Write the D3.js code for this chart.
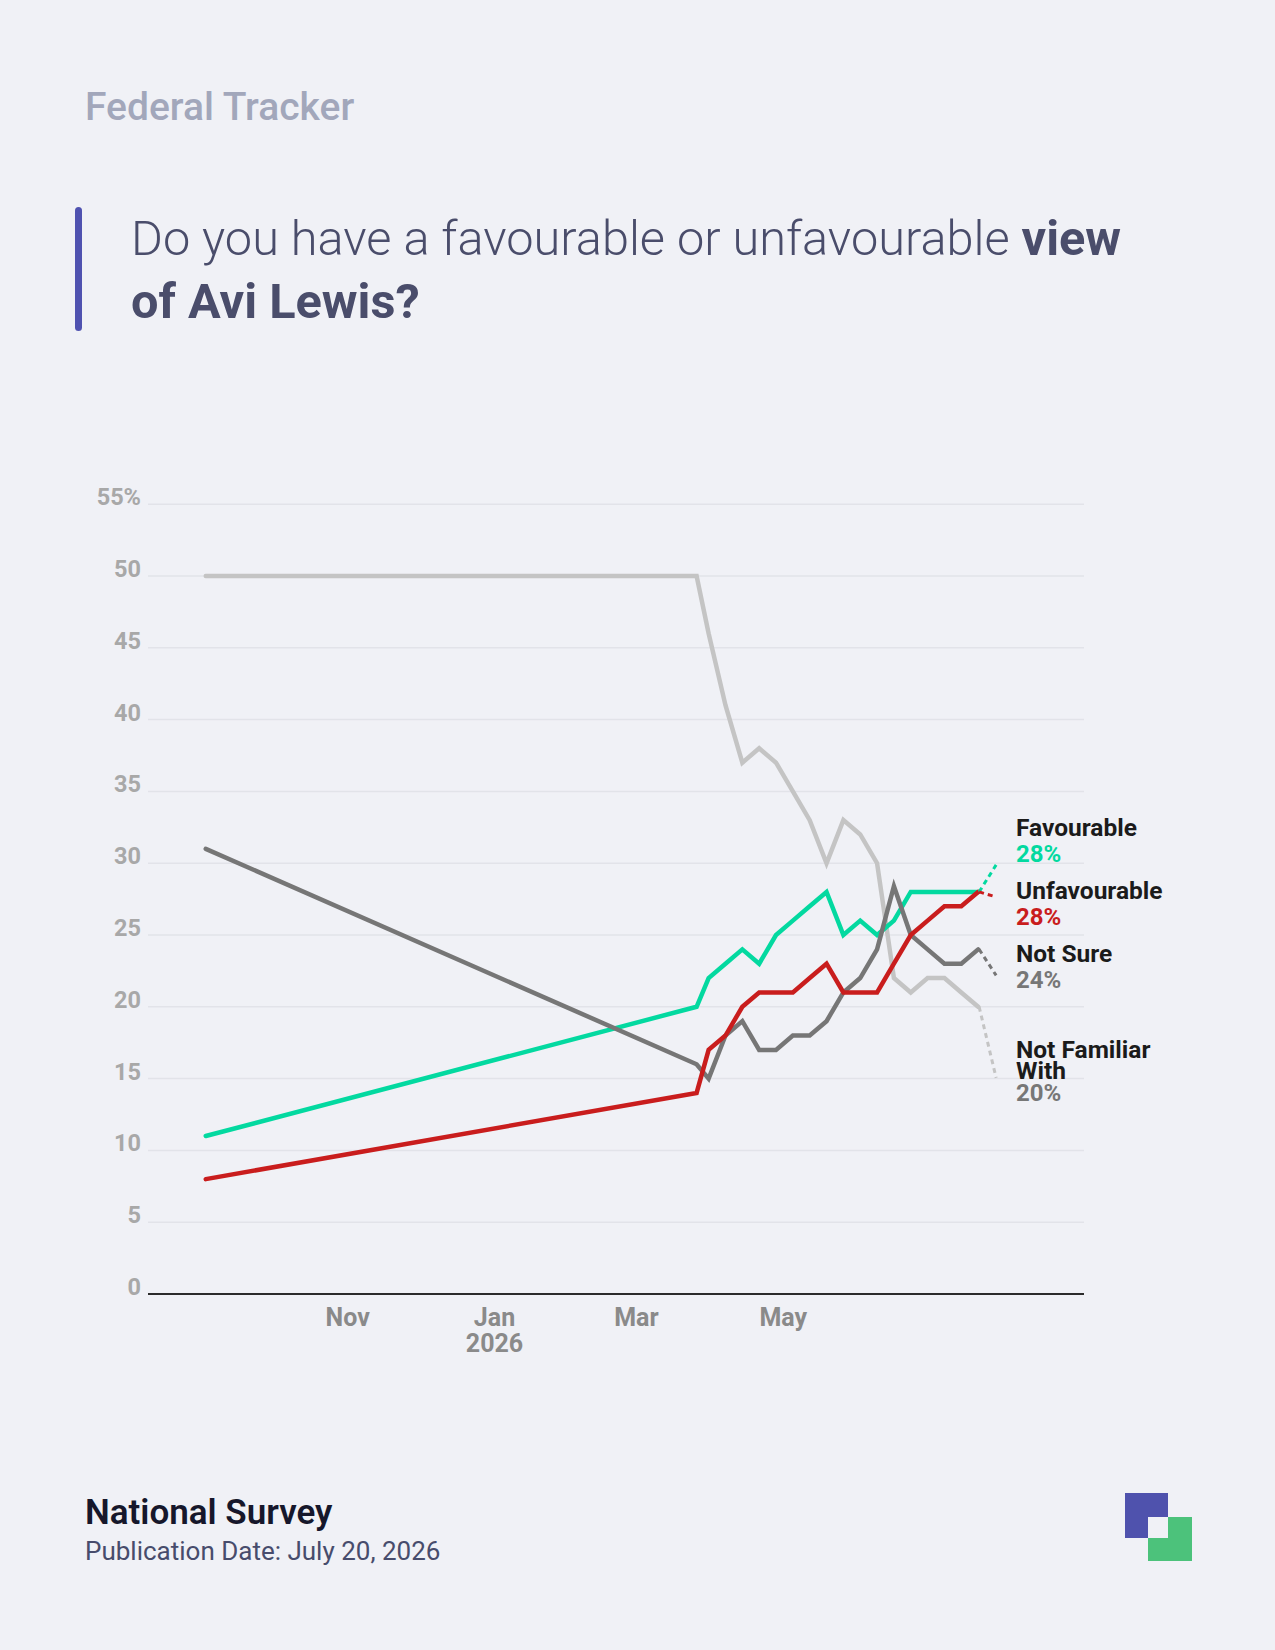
<!DOCTYPE html>
<html>
<head>
<meta charset="utf-8">
<script src="https://cdn.jsdelivr.net/npm/d3@7"></script>
<style>
  html, body { margin: 0; padding: 0; background: #f0f1f6; }
  svg { display: block; font-family: Roboto, "Noto Sans", sans-serif; }
</style>
</head>
<body>
<svg id="chart" width="1275" height="1650"></svg>
<script>
// ---------- DATA ----------
const dates = ["2025-09-03","2026-03-26","2026-03-31","2026-04-07","2026-04-14","2026-04-21",
  "2026-04-28","2026-05-05","2026-05-12","2026-05-19","2026-05-26","2026-06-02","2026-06-09",
  "2026-06-16","2026-06-23","2026-06-30","2026-07-07","2026-07-14","2026-07-21"];
const favourable   = [11,20,22,23,24,23,25,26,27,28,25,26,25,26,28,28,28,28,28];
const unfavourable = [8,14,17,18,20,21,21,21,22,23,21,21,21,23,25,26,27,27,28];
const notSure      = [31,16,15,18,19,17,17,18,18,19,21,22,24,28.4,25,24,23,23,24];
const notFamiliar  = [50,50,46,41,37,38,37,35,33,30,33,32,30,22,21,22,22,21,20];
const seriesNames  = ["Not Familiar With","Favourable","Not Sure","Unfavourable"];
const yTicks = [0,5,10,15,20,25,30,35,40,45,50,55];
const xTickDates = ["2025-11-01","2026-01-01","2026-03-01","2026-05-01"];
const xTickLabels = [["Nov"],["Jan","2026"],["Mar"],["May"]];
const xDomain = ["2025-08-10","2026-09-03"];

// ---------- STYLE / LAYOUT ----------
const parse = d3.timeParse("%Y-%m-%d");
const styles = {
  "Favourable":        {values: favourable,   color: "#03d9a0", valueColor: "#03d9a0", dashDy: -27, textDy: -56},
  "Unfavourable":      {values: unfavourable, color: "#c91d1d", valueColor: "#c91d1d", dashDy: 5,   textDy: 7},
  "Not Sure":          {values: notSure,      color: "#767676", valueColor: "#777777", dashDy: 26,  textDy: 13},
  "Not Familiar With": {values: notFamiliar,  color: "#c4c4c4", valueColor: "#777777", dashDy: 71,  textDy: 51}
};
const labelLines = {
  "Favourable": ["Favourable"], "Unfavourable": ["Unfavourable"],
  "Not Sure": ["Not Sure"], "Not Familiar With": ["Not Familiar", "With"]
};

const svg = d3.select("#chart");
svg.append("rect").attr("width",1275).attr("height",1650).attr("fill","#f0f1f6");

// Header
svg.append("text").attr("x",85).attr("y",120)
  .attr("font-size",39).attr("font-weight",500).attr("fill","#a2a7bb")
  .text("Federal Tracker");
svg.append("rect").attr("x",75).attr("y",207).attr("width",7).attr("height",124)
  .attr("rx",3.5).attr("fill","#4f52b0");
const t1 = svg.append("text").attr("x",131).attr("y",255)
  .attr("font-size",48.7).attr("fill","#4a4d6b");
t1.append("tspan").attr("font-weight",300).text("Do you have a favourable or unfavourable ");
t1.append("tspan").attr("font-weight",700).text("view");
svg.append("text").attr("x",131).attr("y",318)
  .attr("font-size",48.7).attr("font-weight",700).attr("fill","#4a4d6b")
  .text("of Avi Lewis?");

// Scales
const x = d3.scaleTime().domain(xDomain.map(parse)).range([148,1084]);
const y = d3.scaleLinear().domain([0,55]).range([1294,504.2]);

// Grid + y labels
const g = svg.append("g");
g.selectAll("line.grid").data(yTicks.filter(v => v > 0)).join("line")
  .attr("class","grid")
  .attr("x1",148).attr("x2",1084)
  .attr("y1",d => y(d)).attr("y2",d => y(d))
  .attr("stroke","#e2e3e9").attr("stroke-width",1.5);
g.selectAll("text.ylab").data(yTicks).join("text")
  .attr("class","ylab")
  .attr("x",141).attr("y",d => y(d)+1)
  .attr("text-anchor","end").attr("font-size",23.5).attr("font-weight",700)
  .attr("fill","#a8a8a8")
  .text(d => d === 55 ? d + "%" : d);

// x axis
g.append("line").attr("x1",148).attr("x2",1084).attr("y1",y(0)).attr("y2",y(0))
  .attr("stroke","#2b2b2b").attr("stroke-width",2);
xTickDates.forEach((d,i) => {
  const t = g.append("text").attr("x", x(parse(d))).attr("y", 1326)
    .attr("text-anchor","middle").attr("font-size",25).attr("font-weight",700)
    .attr("fill","#8a8a8a");
  xTickLabels[i].forEach((s,j) => {
    t.append("tspan").attr("x", x(parse(d))).attr("dy", j === 0 ? 0 : 26).text(s);
  });
});

// Lines
const line = d3.line().x((d,i) => x(parse(dates[i]))).y(d => y(d));
seriesNames.forEach(name => {
  const s = styles[name];
  svg.append("path").datum(s.values)
    .attr("d", line)
    .attr("fill","none").attr("stroke", s.color).attr("stroke-width",4.5)
    .attr("stroke-linecap","round").attr("stroke-linejoin","miter");
});

// End labels
seriesNames.forEach(name => {
  const s = styles[name];
  const last = s.values.length - 1;
  const lx = x(parse(dates[last])), ly = y(s.values[last]);
  svg.append("line")
    .attr("x1", lx + 1).attr("y1", ly)
    .attr("x2", lx + 18).attr("y2", ly + s.dashDy)
    .attr("stroke", s.color).attr("stroke-width",3).attr("stroke-dasharray","5,4");
  const lines = labelLines[name];
  const base = ly + s.textDy;
  lines.forEach((txt,j) => {
    svg.append("text").attr("x", 1016).attr("y", base + j*21)
      .attr("font-size",24.5).attr("font-weight",700).attr("fill","#1b1b1b").text(txt);
  });
  svg.append("text").attr("x",1016).attr("y", base + (lines.length-1)*21 + (lines.length>1?22:26))
    .attr("font-size",24).attr("font-weight",700).attr("fill", s.valueColor)
    .text(Math.round(s.values[last]) + "%");
});

// Footer
svg.append("text").attr("x",85).attr("y",1524)
  .attr("font-size",35).attr("font-weight",600).attr("fill","#16172b")
  .text("National Survey");
svg.append("text").attr("x",85).attr("y",1560)
  .attr("font-size",26).attr("font-weight",400).attr("fill","#474c6c")
  .text("Publication Date: July 20, 2026");

// Logo
svg.append("rect").attr("x",1125).attr("y",1493).attr("width",43).attr("height",45).attr("fill","#4f52ad");
svg.append("rect").attr("x",1148).attr("y",1517).attr("width",44).attr("height",44).attr("fill","#4cc27b");
svg.append("rect").attr("x",1148).attr("y",1517).attr("width",20).attr("height",21).attr("fill","#f0f1f6");
</script>
</body>
</html>
